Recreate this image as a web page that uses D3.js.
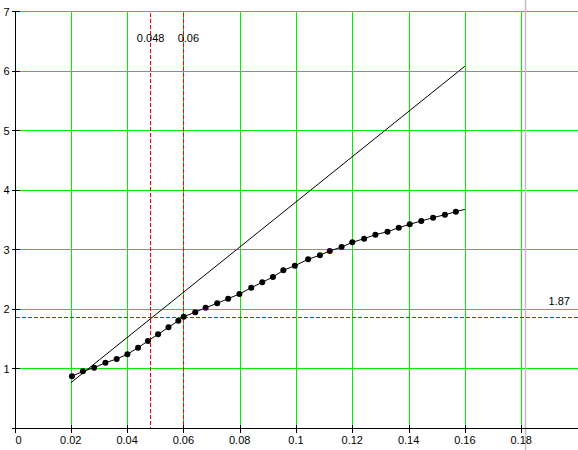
<!DOCTYPE html>
<html><head><meta charset="utf-8">
<script src="https://cdn.jsdelivr.net/npm/d3@7"></script>
<style>body{margin:0;background:#fff}svg{display:block}text{font-family:"Liberation Sans",Arial,sans-serif;font-size:11px;fill:#000}</style>
</head><body>
<svg id="c" width="578" height="450"></svg>
<script>
// Measured points (x, y)
const ptsX = [0.0204,0.0243,0.0283,0.0323,0.0363,0.0401,0.0439,0.0474,0.0510,0.0547,0.0582,0.0601,0.0642,
  0.0679,0.0720,0.0759,0.0799,0.0841,0.0880,0.0918,0.0955,0.0996,0.1043,0.1085,0.1120,
  0.1162,0.1200,0.1242,0.1282,0.1325,0.1365,0.1404,0.1445,0.1487,0.1529,0.1568];
const ptsY = [0.869,0.953,1.013,1.097,1.160,1.239,1.350,1.462,1.575,1.692,1.803,1.871,1.945,
  2.022,2.095,2.173,2.252,2.358,2.449,2.538,2.650,2.728,2.835,2.905,2.975,
  3.042,3.121,3.182,3.249,3.299,3.366,3.424,3.479,3.535,3.585,3.635];
// curve end beyond last point
const curveEndX = [0.16];
const curveEndY = [3.675];
// straight reference line
const lineX = [0.02, 0.16];
const lineY = [0.76, 6.08];
// markers
const markerX = [0.048, 0.06];
const markerXLabels = ["0.048", "0.06"];
const markerY = [1.87];
const markerYLabels = ["1.87"];
const grayX = [0.1814];
// ticks
const xTicks = [0,0.02,0.04,0.06,0.08,0.1,0.12,0.14,0.16,0.18];
const xTickLabels = ["0","0.02","0.04","0.06","0.08","0.1","0.12","0.14","0.16","0.18"];
const yTicks = [0,1,2,3,4,5,6,7];
const yTickLabels = ["","1","2","3","4","5","6","7"];
const xGrid = [0.02,0.04,0.06,0.08,0.1,0.12,0.14,0.16,0.18];
const yGrid = [1,2,3,4,5,6,7];

const svg = d3.select("#c");
const x = d3.scaleLinear().domain([0,0.2]).range([14.5,577.5]);
const y = d3.scaleLinear().domain([0,7]).range([428,11.5]);
const px = v => Math.round(x(v)) + 0.5;
const py = v => Math.floor(y(v)) + 0.5;
const pyr = v => Math.round(y(v)) + 0.5;
const G = "#00f000";
const X0 = px(0), XR = 578, YB = py(0), YT = py(7);

// grid
svg.append("g").selectAll("line").data(xGrid).join("line")
  .attr("x1", px).attr("x2", px).attr("y1", YT).attr("y2", YB)
  .attr("stroke", G).attr("stroke-width", 1).attr("shape-rendering","crispEdges");
svg.append("g").selectAll("line").data(yGrid).join("line")
  .attr("x1", X0).attr("x2", XR).attr("y1", py).attr("y2", py)
  .attr("stroke", G).attr("stroke-width", 1).attr("shape-rendering","crispEdges");

// gray marker line
svg.append("g").selectAll("line").data(grayX).join("line")
  .attr("x1", px).attr("x2", px).attr("y1", 0).attr("y2", 450)
  .attr("stroke", "#c0c0c0").attr("stroke-width", 1.5);

// red dashed markers
svg.append("g").selectAll("line").data(markerX).join("line")
  .attr("x1", px).attr("x2", px).attr("y1", YT + 1).attr("y2", YB)
  .attr("stroke", "#ff0000").attr("stroke-dasharray","4,2").attr("shape-rendering","crispEdges");
svg.append("g").selectAll("line").data(markerY).join("line")
  .attr("x1", X0).attr("x2", XR).attr("y1", pyr).attr("y2", pyr)
  .attr("stroke", "#ff0000").attr("stroke-dasharray","4,2").attr("shape-rendering","crispEdges");

// axes
const xAxis = svg.append("g").attr("transform","translate(0,"+YB+")")
  .call(d3.axisBottom(x).tickValues(xTicks).tickSize(4).tickFormat(""));
xAxis.select(".domain").attr("d","M"+X0+",0H"+XR).attr("shape-rendering","crispEdges");
xAxis.selectAll(".tick").attr("transform", d => "translate(" + px(d) + ",0)");
xAxis.selectAll(".tick line").attr("y1",-4).attr("y2",4).attr("shape-rendering","crispEdges");
const yAxis = svg.append("g").attr("transform","translate("+X0+",0)")
  .call(d3.axisLeft(y).tickValues(yTicks).tickSize(4).tickFormat(""));
yAxis.select(".domain").attr("d","M0,"+YT+"V"+YB).attr("shape-rendering","crispEdges");
yAxis.selectAll(".tick").attr("transform", d => "translate(0," + py(d) + ")");
yAxis.selectAll(".tick line").attr("x1",-4).attr("x2",4).attr("shape-rendering","crispEdges");

// tick labels
svg.append("g").selectAll("text").data(xTicks).join("text")
  .attr("x", (d,i) => x(d) + (i===0 ? 4 : 0)).attr("y", 444)
  .attr("text-anchor","middle").text((d,i) => xTickLabels[i]);
svg.append("g").selectAll("text").data(yTicks).join("text")
  .attr("x", 9.5).attr("y", d => y(d) + 4)
  .attr("text-anchor","end").text((d,i) => yTickLabels[i]);

// marker labels
svg.append("g").selectAll("text").data(markerX).join("text")
  .attr("x", (d,i) => x(d) + (i===0 ? 1 : 5)).attr("y", 42)
  .attr("text-anchor","middle").text((d,i) => markerXLabels[i]);
svg.append("g").selectAll("text").data(markerY).join("text")
  .attr("x", 570).attr("y", d => y(d) - 12)
  .attr("text-anchor","end").text((d,i) => markerYLabels[i]);

// straight line
svg.append("path").datum(lineX.map((d,i)=>[d,lineY[i]]))
  .attr("d", d3.line().x(d=>x(d[0])).y(d=>y(d[1])))
  .attr("fill","none").attr("stroke","#000").attr("stroke-width",1);

// curve
const curve = ptsX.map((d,i)=>[d,ptsY[i]]).concat(curveEndX.map((d,i)=>[d,curveEndY[i]]));
svg.append("path").datum(curve)
  .attr("d", d3.line().x(d=>x(d[0])).y(d=>y(d[1])))
  .attr("fill","none").attr("stroke","#000").attr("stroke-width",1);

// dots
svg.append("g").selectAll("circle").data(ptsX).join("circle")
  .attr("cx", d => x(d)).attr("cy", (d,i) => y(ptsY[i])).attr("r", 3).attr("fill","#000");
</script>
</body></html>
